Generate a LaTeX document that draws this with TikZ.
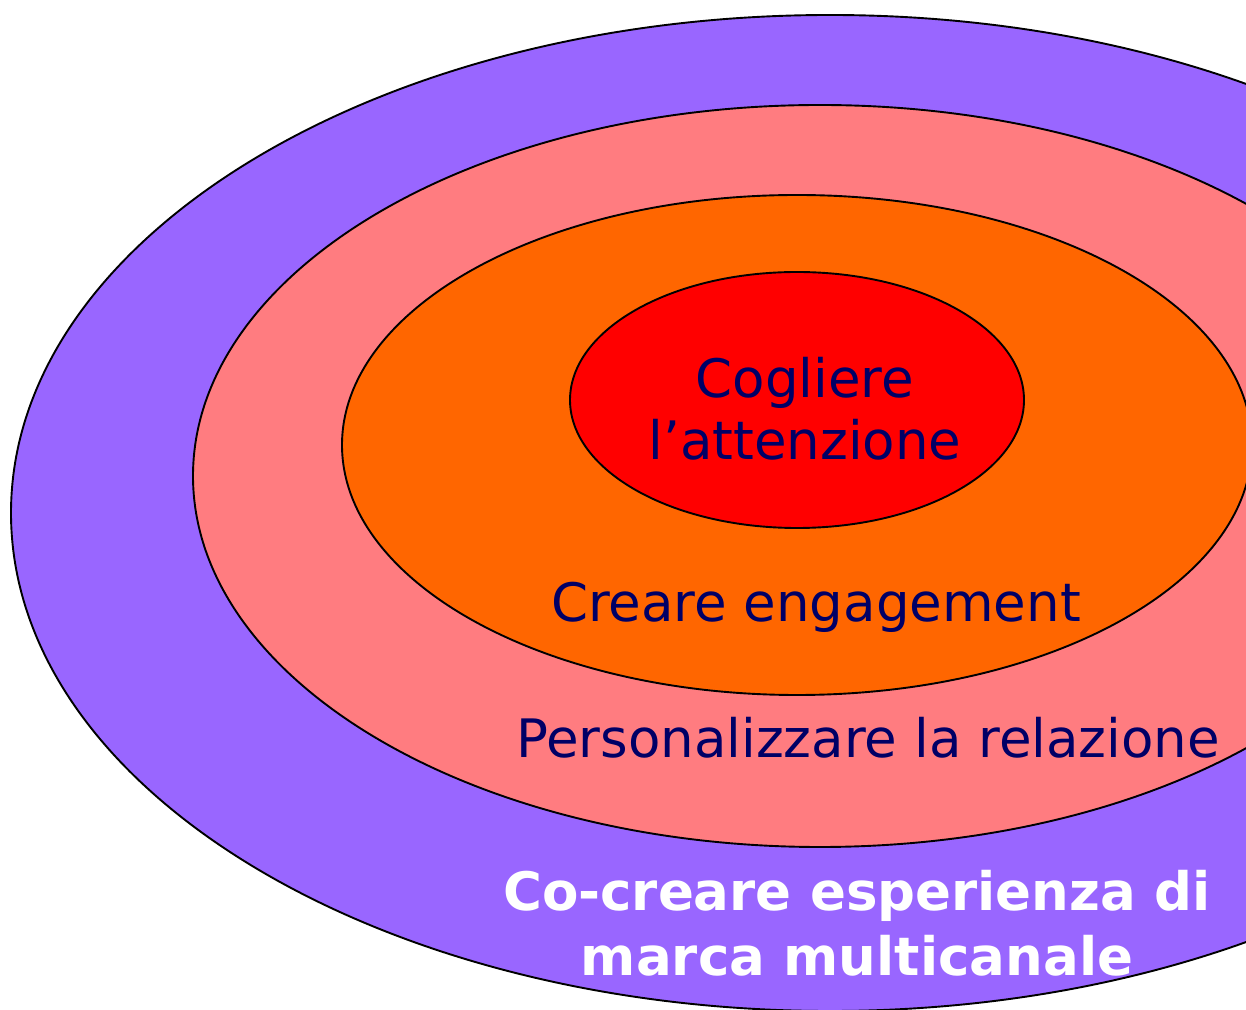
\documentclass[tikz,border=0pt]{standalone}
\usepackage{fontspec}
\setmainfont{DejaVu Sans}
\definecolor{ringviolet}{HTML}{9966FF}
\definecolor{ringpink}{HTML}{FF7C80}
\definecolor{ringorange}{HTML}{FF6600}
\definecolor{ringred}{HTML}{FF0000}
\definecolor{labelnavy}{HTML}{000066}
\begin{document}
\begin{tikzpicture}[x=1pt,y=1pt,
  ring/.style={draw=black,line width=1.9pt},
  inlabel/.style={text=labelnavy,font=\fontsize{53}{62}\selectfont,inner sep=0pt,anchor=base,align=center},
  outlabel/.style={text=white,font=\fontsize{53}{65}\selectfont\bfseries,inner sep=0pt,anchor=base,align=center}]
\useasboundingbox (0,0) rectangle (1246,1009);
\clip (0,0) rectangle (1246,1009);
% nested rings, outermost first
\fill[ringviolet,ring] (830,496) ellipse [x radius=819,y radius=498];
\fill[ringpink,ring] (820,533) ellipse [x radius=627,y radius=371];
\fill[ringorange,ring] (797,564) ellipse [x radius=455,y radius=250];
\fill[ringred,ring] (797,609) ellipse [x radius=227,y radius=128];
% labels
\node[inlabel] (attn1) at (805,611) {Cogliere};
\node[inlabel] (attn2) at (805,549) {l’attenzione};
\node[inlabel] (engage) at (816,387) {Creare engagement};
\node[inlabel] (relate) at (868,251) {Personalizzare la relazione};
\node[outlabel] (cocreate1) at (857,99) {Co-creare esperienza di};
\node[outlabel] (cocreate2) at (857,34) {marca multicanale};
\end{tikzpicture}
\end{document}
